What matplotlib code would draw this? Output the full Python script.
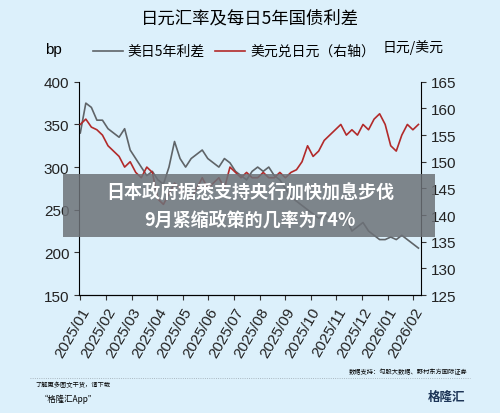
import numpy as np
import matplotlib
matplotlib.use("Agg")
import matplotlib.pyplot as plt
from matplotlib.patches import Rectangle

plt.rcParams['font.family'] = ['Noto Sans CJK SC', 'DejaVu Sans']

months = ["2025/01","2025/02","2025/03","2025/04","2025/05","2025/06","2025/07",
          "2025/08","2025/09","2025/10","2025/11","2025/12","2026/01","2026/02"]
spread = [340,375,370,355,355,345,340,335,345,320,310,300,290,295,285,280,300,330,
          310,300,310,315,320,310,305,300,310,305,295,290,285,295,300,295,300,290,
          285,275,265,260,255,250,245,240,245,240,235,245,240,225,230,235,225,220,
          215,215,218,215,220,215,210,205]
usdjpy = [157,158,156.5,156,155,153,152,151,149,150,148,147,149,148,143,142,144,146,
          145,144,143,145,147,145,146,147,145,149,148,147,148,147,147,148,147,147,
          148,147,148,148.5,150,153,151,152,154,155,156,157,155,156,155,157,156,158,
          159,157,153,152,155,157,156,157]

bg = '#dcf0fb'
fig = plt.figure(figsize=(5, 4.14), dpi=100, facecolor=bg)
ax = fig.add_axes([0.158, 0.285, 0.684, 0.515], facecolor=bg)
x1 = np.linspace(0, 13.2, len(spread))
x2 = np.linspace(0, 13.2, len(usdjpy))
ax.plot(x1, spread, color='#5f6468', lw=1.2)
ax.set_ylim(150, 400)
ax.set_yticks([150,200,250,300,350,400])
ax.set_xlim(-0.05, 13.3)
ax.set_xticks(range(len(months)))
ax.set_xticklabels(months, rotation=60, ha='right', rotation_mode='anchor', fontsize=10, family='Liberation Sans')
ax2 = ax.twinx()
ax2.plot(x2, usdjpy, color='#b22a2a', lw=1.2)
ax2.set_ylim(125, 165)
ax2.set_yticks(range(125, 170, 5))
for a in (ax, ax2):
    for s in ('top',):
        a.spines[s].set_visible(False)
    a.tick_params(labelsize=11, direction='out', color='#333333', labelcolor='#222222')
ax.spines['right'].set_visible(False)
ax2.spines['left'].set_visible(False)
for lab in ax.get_yticklabels()+ax2.get_yticklabels():
    lab.set_family('Liberation Sans')

fig.text(0.5, 0.955, "日元汇率及每日5年国债利差", ha='center', va='center', fontsize=12.5)
fig.text(0.09, 0.87, "bp", fontsize=11, family='Liberation Sans')
fig.lines.append(plt.Line2D([0.185, 0.245], [0.875, 0.875], color='#5f6468', lw=1.2, transform=fig.transFigure))
fig.text(0.255, 0.875, "美日5年利差", va='center', fontsize=10)
fig.lines.append(plt.Line2D([0.43, 0.49], [0.875, 0.875], color='#b22a2a', lw=1.2, transform=fig.transFigure))
fig.text(0.50, 0.875, "美元兑日元（右轴）", va='center', fontsize=10)
fig.text(0.765, 0.885, "日元/美元", va='center', fontsize=10)

fig.add_artist(Rectangle((0.126, 0.425), 0.744, 0.152, transform=fig.transFigure,
                         facecolor='#6d7278', alpha=0.85, edgecolor='none'))
fig.text(0.5, 0.535, "日本政府据悉支持央行加快加息步伐", ha='center', va='center', color='white', fontsize=13, fontweight='bold')
fig.text(0.5, 0.468, "9月紧缩政策的几率为74%", ha='center', va='center', color='white', fontsize=13, fontweight='bold')

fig.lines.append(plt.Line2D([0.06, 0.94], [0.085, 0.085], color='#9aa5ad', lw=0.6, ls=':', transform=fig.transFigure))
fig.text(0.935, 0.1, "数据支持：勾股大数据、野村东方国际证券", ha='right', va='center', fontsize=4.5)
fig.text(0.07, 0.07, "了解更多图文干货，请下载", fontsize=4.5, style='italic', va='center')
fig.text(0.08, 0.035, "“格隆汇App”", fontsize=6, va='center')
fig.text(0.93, 0.04, "格隆汇", ha='right', fontsize=9, fontweight='bold', color='#1d3557', va='center')

fig.savefig("out.png", dpi=100, facecolor=bg)
